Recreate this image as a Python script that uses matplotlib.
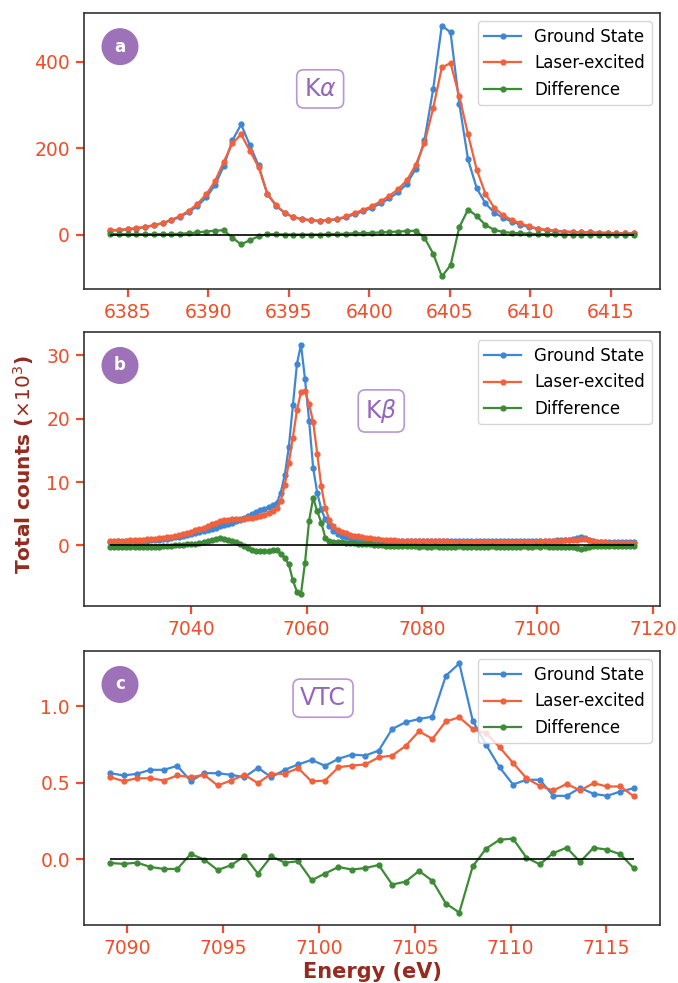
import matplotlib
matplotlib.use("Agg")
import matplotlib.pyplot as plt
from matplotlib.patches import Ellipse
import numpy as np

# energy grids (eV)
e_ka = np.linspace(6383.9, 6416.45, 61)
e_kb = np.linspace(7025.92, 7116.72, 130)
e_vtc = np.linspace(7089.1, 7116.43, 40)

# K-alpha (counts)
ka_ground = [9, 10, 12, 14, 17, 21, 26, 33, 41, 52,
             66, 86, 114, 158, 218, 255, 207, 160, 94, 67,
             50, 40, 36, 33, 32, 33, 35, 40, 47, 54,
             62, 72, 84, 98, 118, 152, 218, 336, 484, 468,
             303, 174, 107, 72, 51, 39, 30, 23, 17, 13,
             10, 8, 7, 6, 5, 5, 4, 4, 3, 3, 3]
ka_laser = [10, 11, 13, 15, 18, 22, 27, 34, 43, 55,
            71, 93, 123, 168, 211, 232, 194, 156, 95, 68,
            50, 40, 36, 33, 32, 34, 36, 42, 50, 57,
            66, 77, 90, 105, 126, 161, 211, 292, 387, 397,
            320, 232, 150, 94, 62, 45, 34, 26, 19, 14,
            11, 9, 7, 6, 5, 5, 4, 4, 3, 3, 3]
ka_diff = [1, 1, 1, 1, 1, 1, 1, 1, 2, 3,
           5, 7, 9, 10, -7, -23, -13, -4, 1, 1,
           0, 0, 0, 0, 0, 1, 1, 2, 3, 3,
           4, 5, 6, 7, 8, 9, -7, -44, -97, -71,
           17, 58, 43, 22, 11, 6, 4, 3, 2, 1,
           1, 1, 0, 0, 0, 0, 0, 0, 0, 0, 0]

# K-beta (counts x 10^3)
kb_ground = [0.60, 0.60, 0.62, 0.61, 0.63, 0.65, 0.67, 0.69, 0.72, 0.76,
             0.80, 0.85, 0.92, 1.00, 1.08, 1.17, 1.27, 1.38, 1.50, 1.63,
             1.78, 1.92, 2.08, 2.25, 2.42, 2.60, 2.80, 3.00, 3.20, 3.40,
             3.60, 3.80, 4.05, 4.30, 4.60, 4.90, 5.25, 5.55, 5.80, 6.05,
             6.30, 6.65, 8.30, 11.1, 15.5, 22.1, 28.6, 31.7, 26.2, 19.7,
             12.2, 8.3, 5.7, 4.1, 3.1, 2.3, 1.8, 1.5, 1.3, 1.15,
             1.05, 0.97, 0.91, 0.87, 0.83, 0.80, 0.78, 0.76, 0.74, 0.73,
             0.72, 0.71, 0.70, 0.70, 0.69, 0.69, 0.68, 0.69, 0.68, 0.67,
             0.68, 0.67, 0.67, 0.68, 0.66, 0.67, 0.66, 0.66, 0.67, 0.65,
             0.66, 0.65, 0.66, 0.65, 0.65, 0.66, 0.64, 0.65, 0.65, 0.64,
             0.65, 0.66, 0.66, 0.67, 0.68, 0.68, 0.70, 0.71, 0.73, 0.76,
             0.79, 0.82, 0.86, 0.91, 1.00, 1.10, 1.25, 1.15, 0.90, 0.70,
             0.60, 0.57, 0.55, 0.54, 0.53, 0.52, 0.52, 0.51, 0.51, 0.50]
kb_laser = [0.68, 0.70, 0.71, 0.73, 0.75, 0.78, 0.82, 0.86, 0.90, 0.95,
            1.00, 1.06, 1.13, 1.21, 1.30, 1.40, 1.52, 1.66, 1.81, 1.98,
            2.16, 2.36, 2.57, 2.80, 3.05, 3.30, 3.55, 3.80, 4.00, 4.05,
            4.10, 4.12, 4.15, 4.20, 4.28, 4.38, 4.50, 4.65, 4.85, 5.10,
            5.40, 5.90, 7.00, 9.50, 13.0, 17.0, 21.3, 24.2, 24.3, 22.3,
            19.5, 14.5, 9.3, 5.9, 4.0, 3.0, 2.5, 2.15, 1.90, 1.70,
            1.55, 1.42, 1.30, 1.20, 1.12, 1.05, 0.98, 0.93, 0.88, 0.84,
            0.80, 0.77, 0.75, 0.73, 0.71, 0.70, 0.68, 0.67, 0.66, 0.65,
            0.64, 0.63, 0.63, 0.62, 0.61, 0.61, 0.60, 0.60, 0.59, 0.59,
            0.58, 0.58, 0.58, 0.57, 0.57, 0.57, 0.56, 0.56, 0.56, 0.55,
            0.56, 0.56, 0.57, 0.58, 0.59, 0.60, 0.62, 0.64, 0.66, 0.69,
            0.72, 0.75, 0.78, 0.82, 0.87, 0.92, 1.00, 0.95, 0.80, 0.62,
            0.52, 0.48, 0.46, 0.45, 0.44, 0.43, 0.43, 0.42, 0.42, 0.41]
kb_diff = [-0.25, -0.30, -0.25, -0.30, -0.28, -0.25, -0.30, -0.25, -0.22, -0.25,
           -0.20, -0.24, -0.20, -0.15, -0.12, -0.06, 0.00, 0.05, 0.10, 0.15,
           0.20, 0.30, 0.40, 0.50, 0.65, 0.80, 0.95, 1.10, 1.05, 0.90,
           0.70, 0.50, 0.20, -0.10, -0.40, -0.70, -0.90, -0.95, -0.95, -0.90,
           -0.75, -0.80, -1.30, -2.00, -3.00, -5.50, -7.30, -7.60, -2.70, 3.90,
           7.50, 5.40, 3.60, 1.20, 0.70, 0.60, 0.55, 0.50, 0.45, 0.40,
           0.35, 0.30, 0.25, 0.20, 0.15, 0.10, 0.05, 0.00, -0.05, -0.08,
           -0.10, -0.12, -0.10, -0.15, -0.12, -0.15, -0.18, -0.15, -0.20, -0.18,
           -0.15, -0.20, -0.18, -0.22, -0.18, -0.20, -0.15, -0.20, -0.22, -0.18,
           -0.20, -0.18, -0.22, -0.20, -0.17, -0.20, -0.22, -0.18, -0.20, -0.21,
           -0.18, -0.20, -0.17, -0.20, -0.18, -0.15, -0.18, -0.17, -0.20, -0.18,
           -0.20, -0.22, -0.25, -0.28, -0.32, -0.38, -0.55, -0.42, -0.20, -0.10,
           -0.08, -0.10, -0.08, -0.10, -0.09, -0.10, -0.09, -0.10, -0.10, -0.10]

# valence-to-core (counts x 10^3)
vtc_ground = [0.563, 0.548, 0.559, 0.585, 0.585, 0.611, 0.511, 0.563, 0.563, 0.552,
              0.537, 0.598, 0.537, 0.585, 0.620, 0.650, 0.611, 0.657, 0.685, 0.678,
              0.711, 0.852, 0.896, 0.917, 0.933, 1.200, 1.280, 0.907, 0.748, 0.602,
              0.489, 0.520, 0.520, 0.415, 0.415, 0.467, 0.428, 0.415, 0.443, 0.465]
vtc_laser = [0.537, 0.511, 0.530, 0.530, 0.515, 0.548, 0.537, 0.552, 0.483, 0.515,
             0.552, 0.498, 0.559, 0.559, 0.596, 0.509, 0.515, 0.602, 0.613, 0.620,
             0.667, 0.678, 0.741, 0.837, 0.787, 0.902, 0.928, 0.852, 0.824, 0.733,
             0.630, 0.530, 0.480, 0.450, 0.493, 0.450, 0.498, 0.476, 0.476, 0.411]
vtc_diff = [-0.024, -0.030, -0.022, -0.050, -0.063, -0.063, 0.035, -0.002, -0.070, -0.039,
            0.020, -0.093, 0.020, -0.022, -0.013, -0.137, -0.093, -0.050, -0.067, -0.057,
            -0.037, -0.165, -0.146, -0.076, -0.141, -0.289, -0.348, -0.046, 0.070, 0.128,
            0.135, 0.011, -0.033, 0.041, 0.076, -0.017, 0.076, 0.063, 0.033, -0.059]

panels = [
    (e_ka, ka_ground, ka_laser, ka_diff, r"K$\alpha$", "a", (0.41, 0.725),
     [6385, 6390, 6395, 6400, 6405, 6410, 6415], [0, 200, 400]),
    (e_kb, kb_ground, kb_laser, kb_diff, r"K$\beta$", "b", (0.516, 0.712),
     [7040, 7060, 7080, 7100, 7120], [0, 10, 20, 30]),
    (e_vtc, vtc_ground, vtc_laser, vtc_diff, "VTC", "c", (0.415, 0.828),
     [7090, 7095, 7100, 7105, 7110, 7115], [0.0, 0.5, 1.0]),
]

c_gs = "#3f87d4"
c_le = "#f2603c"
c_df = "#3d8b37"
tick_col = "#f04e2a"
lab_col = "#962a1e"
purple = "#9d72b8"

fig = plt.figure(figsize=(6.78, 9.83), dpi=100)
rects = [[0.1239, 0.7060, 0.8496, 0.2808],
         [0.1239, 0.3835, 0.8496, 0.2787],
         [0.1239, 0.0590, 0.8496, 0.2787]]

for rect, (x, gs, le, df, title, letter, tpos, xt, yt) in zip(rects, panels):
    ax = fig.add_axes(rect)
    ax.plot(x, gs, "-o", color=c_gs, lw=1.6, ms=3.5, label="Ground State")
    ax.plot(x, le, "-o", color=c_le, lw=1.6, ms=3.5, label="Laser-excited")
    ax.plot(x, df, "-o", color=c_df, lw=1.6, ms=3.5, label="Difference")
    ax.hlines(0, x[0], x[-1], color="k", lw=1.2)
    ax.set_xticks(xt)
    ax.set_yticks(yt)
    ax.tick_params(colors=tick_col, labelsize=13.5, length=6, width=1.6, pad=4)
    for s in ax.spines.values():
        s.set_color("#333333")
        s.set_linewidth(1.2)
    ax.legend(loc="upper right", fontsize=12, handlelength=2.2)
    ax.text(tpos[0], tpos[1], title, transform=ax.transAxes, ha="center", va="center",
            fontsize=17, color="#9467bd",
            bbox=dict(boxstyle="round,pad=0.3", fc="white", ec="#b995d6", lw=1.2))
    h = rect[3] * 983
    ax.add_patch(Ellipse((0.0625, 0.878), 37 / 576, 37 / h, transform=ax.transAxes,
                         fc=purple, ec="none"))
    ax.text(0.0625, 0.878, letter, transform=ax.transAxes, ha="center", va="center",
            fontsize=12, fontweight="bold", color="white")

ax.set_xlabel("Energy (eV)", fontsize=15, fontweight="bold", color=lab_col, labelpad=3)
fig.text(0.035, 0.527, r"Total counts ($\times10^3$)", rotation=90, ha="center", va="center",
         fontsize=14.5, fontweight="bold", color=lab_col)

fig.savefig("out.png", dpi=100)
